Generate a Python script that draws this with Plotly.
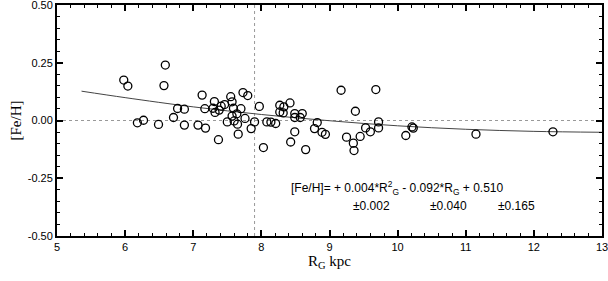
import plotly.graph_objects as go

# Data
r_g = [5.98, 6.04, 6.59, 6.57, 6.18, 6.27, 6.49, 6.71, 6.77, 6.87, 6.87, 7.07, 7.13, 7.17, 7.18,
       7.29, 7.31, 7.32, 7.37, 7.38, 7.41, 7.46, 7.50, 7.55, 7.57, 7.59, 7.57, 7.64, 7.60, 7.65,
       7.66, 7.73, 7.80, 7.70, 7.76, 7.85, 7.90, 7.97, 8.03, 8.08, 8.14, 8.21, 8.27, 8.33, 8.42,
       8.27, 8.32, 8.49, 8.60, 8.49, 8.57, 8.49, 8.43, 8.65, 8.82, 8.78, 8.89, 8.94, 9.17, 9.38,
       9.25, 9.35, 9.36, 9.45, 9.53, 9.60, 9.68, 9.72, 9.72, 10.12, 10.21, 10.23, 11.15, 12.28]
fe_h = [0.175, 0.149, 0.240, 0.151, -0.010, 0.001, -0.017, 0.013, 0.052, 0.049, -0.020, -0.020, 0.110, 0.051, -0.033,
        0.053, 0.082, 0.035, -0.083, 0.045, 0.062, 0.069, -0.006, 0.103, 0.081, 0.053, 0.019, 0.029, -0.002, -0.016,
        -0.059, 0.121, 0.108, 0.051, 0.009, -0.035, -0.006, 0.061, -0.117, -0.006, -0.007, -0.013, 0.066, 0.059, 0.076,
        0.037, 0.033, 0.030, 0.030, 0.013, 0.013, -0.049, -0.093, -0.126, -0.009, -0.035, -0.051, -0.060, 0.131, 0.040,
        -0.072, -0.098, -0.130, -0.069, -0.032, -0.049, 0.134, -0.006, -0.032, -0.065, -0.028, -0.033, -0.059, -0.049]

# Fit curve
fit_x = [5.36, 6, 7, 8, 9, 10, 11, 12, 13]
fit_y = [0.127, 0.099, 0.059, 0.026, -0.001, -0.023, -0.038, -0.047, -0.051]

# Reference lines
ref_x = 7.9
ref_y = 0.0

x_ticks = [5, 6, 7, 8, 9, 10, 11, 12, 13]
y_ticks = [-0.5, -0.25, 0.0, 0.25, 0.5]
y_tick_labels = ["-0.50", "-0.25", "0.00", "0.25", "0.50"]

x_title = "R<sub>G</sub> kpc"
y_title = "[Fe/H]"
eq_text = "[Fe/H]= + 0.004*R<sup>2</sup><sub>G</sub> - 0.092*R<sub>G</sub> + 0.510"
err_texts = ["±0.002", "±0.040", "±0.165"]
err_x = [9.32, 10.44, 11.44]

fig = go.Figure()

fig.add_trace(go.Scatter(
    x=fit_x, y=fit_y, mode="lines", line=dict(color="#444444", width=1, shape="spline"),
    hoverinfo="skip", showlegend=False))

fig.add_trace(go.Scatter(
    x=r_g, y=fe_h, mode="markers",
    marker=dict(symbol="circle-open", size=8, color="black", line=dict(width=1.3)),
    showlegend=False))

fig.add_shape(type="line", xref="x", yref="paper", x0=ref_x, x1=ref_x, y0=0, y1=1,
              line=dict(color="#999999", width=1, dash="dot"), layer="below")
fig.add_shape(type="line", xref="paper", yref="y", x0=0, x1=1, y0=ref_y, y1=ref_y,
              line=dict(color="#999999", width=1, dash="dot"), layer="below")

fig.add_annotation(x=8.40, y=-0.293, xref="x", yref="y", text=eq_text, showarrow=False,
                   xanchor="left", yanchor="middle",
                   font=dict(family="Liberation Sans", size=12, color="black"))
for t, xv in zip(err_texts, err_x):
    fig.add_annotation(x=xv, y=-0.371, xref="x", yref="y", text=t, showarrow=False,
                       xanchor="left", yanchor="middle",
                       font=dict(family="Liberation Sans", size=12, color="black"))

# Axis titles
fig.add_annotation(x=0.5, y=0, xref="paper", yref="paper", text=x_title, showarrow=False,
                   xanchor="center", yanchor="top", yshift=-15,
                   font=dict(family="Liberation Serif", size=15, color="black"))
fig.add_annotation(x=0, y=0.5, xref="paper", yref="paper", text=y_title, showarrow=False,
                   xanchor="center", yanchor="middle", xshift=-42, textangle=-90,
                   font=dict(family="Liberation Serif", size=15, color="black"))

axis_common = dict(
    showline=True, linecolor="black", linewidth=2, mirror="allticks",
    ticks="inside", ticklen=6, tickwidth=1.5, tickcolor="black",
    showgrid=False, zeroline=False, automargin=False, ticklabeloverflow="allow",
    tickfont=dict(family="Liberation Sans", size=11, color="black"),
)

fig.update_xaxes(range=[5, 13], tickvals=x_ticks,
                 minor=dict(dtick=0.2, ticks="inside", ticklen=3, tickwidth=1, tickcolor="black", showgrid=False),
                 **axis_common)
fig.update_yaxes(range=[-0.5, 0.5], tickvals=y_ticks, ticktext=y_tick_labels,
                 minor=dict(dtick=0.05, ticks="inside", ticklen=3, tickwidth=1, tickcolor="black", showgrid=False),
                 **axis_common)

fig.update_layout(
    width=608, height=281,
    margin=dict(l=57, r=6, t=5, b=45),
    plot_bgcolor="white", paper_bgcolor="white",
)

fig.write_html("out.html", config={"displayModeBar": False},
               post_script="document.body.style.margin='0px';document.body.style.overflow='hidden';")
